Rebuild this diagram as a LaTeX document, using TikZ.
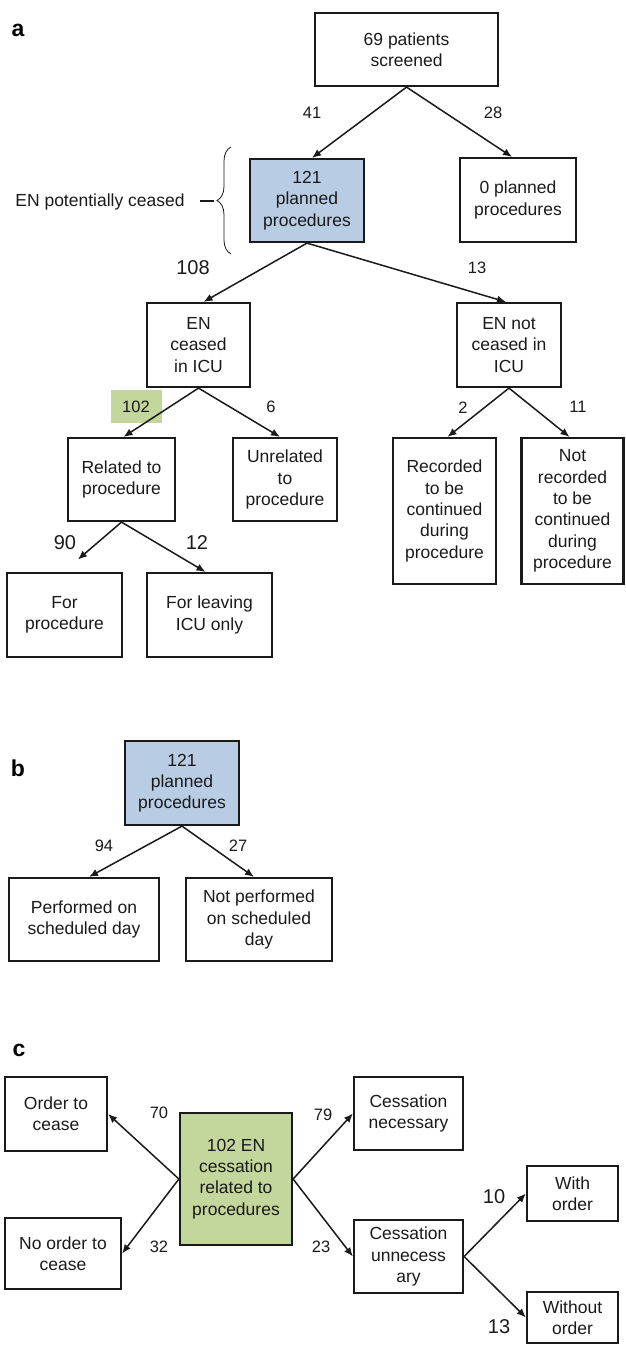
\documentclass[tikz,border=0pt]{standalone}
\usepackage{fontspec}
\setmainfont{Liberation Sans}
\usetikzlibrary{arrows.meta,decorations.pathreplacing,calc}
\definecolor{blueFill}{HTML}{B8CCE4}
\definecolor{greenFill}{HTML}{C3D69B}
\definecolor{ink}{HTML}{1A1A1A}
\begin{document}
\begin{tikzpicture}[x=1pt,y=-1pt,
  box/.style={draw=ink, line width=2.2pt, text=ink, align=center, inner sep=0pt,
    font=\fontsize{17.5}{21.3}\selectfont},
  arr/.style={draw=ink, line width=1.5pt, -{Latex[length=9pt,width=7.5pt]}},
  lbl/.style={text=ink, inner sep=0pt, font=\fontsize{16.5}{18}\selectfont},
  biglbl/.style={text=ink, inner sep=0pt, font=\fontsize{20}{22}\selectfont},
  panel/.style={text=black, inner sep=0pt, font=\fontsize{23}{24}\selectfont\bfseries},
]
\useasboundingbox (0,0) rectangle (625,1345);

% ---------------- panel a ----------------
\node[panel] (pa) at (18,30) {a};
\node[box, minimum width=183pt, minimum height=73pt] (scr) at (406.5,49.5) {69 patients\\screened};
\node[box, fill=blueFill, minimum width=114pt, minimum height=83pt] (pp) at (307,200.5) {121\\planned\\procedures};
\node[box, minimum width=116pt, minimum height=84pt] (zp) at (518,200) {0 planned\\procedures};
\node[box, minimum width=103pt, minimum height=84pt] (enc) at (198.5,345) {EN\\ceased\\in ICU};
\node[box, minimum width=104pt, minimum height=84pt] (enn) at (509,345) {EN not\\ceased in\\ICU};
\node[box, minimum width=107pt, minimum height=83pt] (rel) at (121.5,479.5) {Related to\\procedure};
\node[box, minimum width=104pt, minimum height=83pt] (unr) at (285,479.5) {Unrelated\\to\\procedure};
\node[box, minimum width=103pt, minimum height=146pt] (rec) at (444.5,511) {Recorded\\to be\\continued\\during\\procedure};
\node[box, minimum width=102pt, minimum height=146pt] (nrec) at (572.5,511) {Not\\recorded\\to be\\continued\\during\\procedure};
\node[box, minimum width=115pt, minimum height=84pt] (fp) at (64.5,615) {For\\procedure};
\node[box, minimum width=125pt, minimum height=84pt] (fl) at (209.5,615) {For leaving\\ICU only};

% brace
\node[text=ink, inner sep=0pt, font=\fontsize{17.5}{21.3}\selectfont] (epc) at (100,202) {EN potentially ceased};
\coordinate (brB) at (231,254);
\coordinate (brT) at (231,147);
\draw[ink, line width=0.8pt, decorate, decoration={brace, amplitude=14pt, aspect=0.5}] (brB) -- (brT);
\coordinate (dashL) at (200,201);
\coordinate (dashR) at (214,201);
\draw[ink, line width=1.8pt] (dashL) -- (dashR);

% highlight under 102
\node[fill=greenFill, minimum width=51pt, minimum height=33pt, inner sep=0pt] (hl) at (136.5,406.5) {};

\draw[arr] (scr.south) -- ($(pp.north)+(5,0)$);
\draw[arr] (scr.south) -- ($(zp.north)+(-6,0)$);
\draw[arr] (pp.south) -- ($(enc.north)+(5,0)$);
\draw[arr] (pp.south) -- ($(enn.north)+(-3,0)$);
\draw[arr] (enc.south) -- ($(rel.north)+(2,0)$);
\draw[arr] (enc.south) -- ($(unr.north)+(-5,0)$);
\draw[arr] (enn.south) -- ($(rec.north)+(3,0)$);
\draw[arr] (enn.south) -- ($(nrec.north)+(-3,0)$);
\draw[arr, shorten >=19pt] (rel.south) -- ($(fp.north)+(-1,0)$);
\draw[arr] (rel.south) -- ($(fl.north)+(-4,0)$);

\node[lbl] (l41) at (312,113) {41};
\node[lbl] (l28) at (493,113) {28};
\node[biglbl] (l108) at (193,268) {108};
\node[lbl] (l13a) at (477,268) {13};
\node[lbl] (l102) at (136,407) {102};
\node[lbl] (l6) at (271,407) {6};
\node[lbl] (l2) at (463,408) {2};
\node[lbl] (l11) at (578,407) {11};
\node[biglbl] (l90) at (65,543) {90};
\node[biglbl] (l12) at (197,543) {12};

% ---------------- panel b ----------------
\node[panel] (pb) at (18,768) {b};
\node[box, fill=blueFill, minimum width=114pt, minimum height=84pt] (pp2) at (182,783) {121\\planned\\procedures};
\node[box, minimum width=150pt, minimum height=83pt] (perf) at (84,919.5) {Performed on\\scheduled day};
\node[box, minimum width=146pt, minimum height=83pt] (nperf) at (259,919.5) {Not performed\\on scheduled\\day};
\draw[arr] (pp2.south) -- ($(perf.north)+(5,0)$);
\draw[arr] (pp2.south) -- ($(nperf.north)+(-5,0)$);
\node[lbl] (l94) at (104,846) {94};
\node[lbl] (l27) at (238,846) {27};

% ---------------- panel c ----------------
\node[panel] (pc) at (19,1050) {c};
\node[box, minimum width=102pt, minimum height=74pt] (ord) at (56,1114) {Order to\\cease};
\node[box, minimum width=116pt, minimum height=71pt] (nord) at (63,1253.5) {No order to\\cease};
\node[box, fill=greenFill, minimum width=112pt, minimum height=132pt] (cess) at (236,1179) {102 EN\\cessation\\related to\\procedures};
\node[box, minimum width=109pt, minimum height=73pt] (nec) at (408.5,1113.5) {Cessation\\necessary};
\node[box, minimum width=109pt, minimum height=73pt] (unn) at (408.5,1256.5) {Cessation\\unnecess\\ary};
\node[box, minimum width=91pt, minimum height=55pt] (wo) at (572.5,1193.5) {With\\order};
\node[box, minimum width=91pt, minimum height=51pt] (wno) at (572.5,1317.5) {Without\\order};

\draw[arr] (cess.west) -- (ord.east);
\draw[arr] (cess.west) -- (nord.east);
\draw[arr] (cess.east) -- (nec.west);
\draw[arr] (cess.east) -- (unn.west);
\draw[arr] (unn.east) -- (wo.west);
\draw[arr] (unn.east) -- (wno.west);

\node[lbl] (l70) at (159,1113) {70};
\node[lbl] (l32) at (159,1247) {32};
\node[lbl] (l79) at (323,1115) {79};
\node[lbl] (l23) at (321,1247) {23};
\node[biglbl] (l10) at (494,1197) {10};
\node[biglbl] (l13c) at (499,1327) {13};
\end{tikzpicture}
\end{document}
